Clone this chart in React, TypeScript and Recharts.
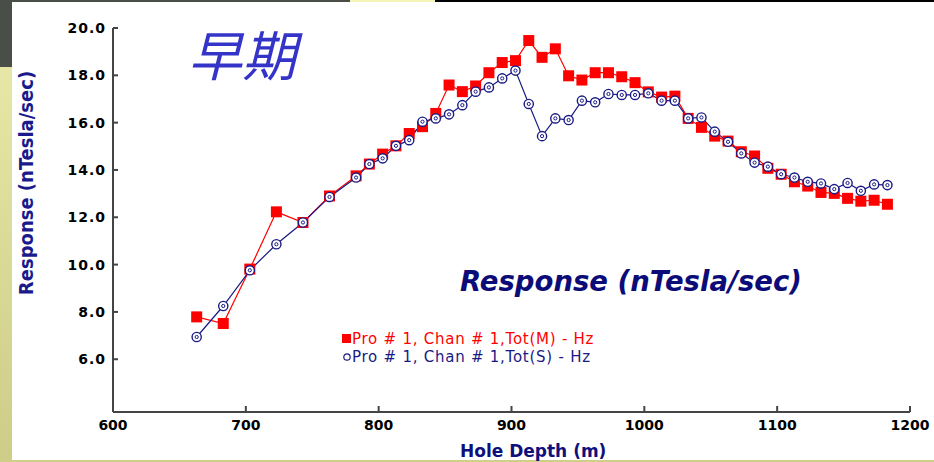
import { Line, LineChart, XAxis, YAxis } from "recharts";

const depths = [
  663, 683, 703, 723, 743, 763, 783, 793, 803, 813, 823, 833, 843, 853, 863, 873,
  883, 893, 903, 913, 923, 933, 943, 953, 963, 973, 983, 993, 1003, 1013, 1023,
  1033, 1043, 1053, 1063, 1073, 1083, 1093, 1103, 1113, 1123, 1133, 1143, 1153,
  1163, 1173, 1183,
];

const totM = [
  7.79, 7.51, 9.81, 12.23, 11.78, 12.9, 13.75, 14.25, 14.67, 15.02, 15.54, 15.83,
  16.39, 17.59, 17.31, 17.55, 18.11, 18.54, 18.62, 19.47, 18.76, 19.12, 17.98,
  17.8, 18.11, 18.11, 17.94, 17.69, 17.3, 17.08, 17.12, 16.18, 15.8, 15.43, 15.22,
  14.77, 14.59, 14.07, 13.82, 13.5, 13.32, 13.05, 13.01, 12.8, 12.68, 12.72, 12.55,
];

const totS = [
  6.94, 8.25, 9.76, 10.86, 11.78, 12.86, 13.68, 14.25, 14.49, 15.02, 15.26, 16.04,
  16.18, 16.35, 16.74, 17.31, 17.49, 17.87, 18.2, 16.79, 15.43, 16.18, 16.11,
  16.93, 16.86, 17.21, 17.17, 17.17, 17.24, 16.93, 16.93, 16.18, 16.22, 15.62,
  15.19, 14.7, 14.31, 14.14, 13.82, 13.68, 13.5, 13.43, 13.19, 13.45, 13.12, 13.39,
  13.36,
];

const xTicks = [600, 700, 800, 900, 1000, 1100, 1200];
const yTicks = [6, 8, 10, 12, 14, 16, 18, 20];

const seriesNames = ["Pro # 1, Chan # 1,Tot(M) - Hz", "Pro # 1, Chan # 1,Tot(S) - Hz"];

const data = depths.map((d, i) => ({ depth: d, m: totM[i], s: totS[i] }));

const RED = "#ff0000";
const NAVY = "#1a1a84";
const AXIS = "#444444";
const tickFont = { fontFamily: "DejaVu Sans", fontWeight: 700, fontSize: 14, fill: "#000" };

function SquareDot({ cx, cy }: any) {
  if (cx == null || cy == null) return null;
  return <rect x={cx - 5.5} y={cy - 5.5} width={11} height={11} fill={RED} />;
}

function RingDot({ cx, cy }: any) {
  if (cx == null || cy == null) return null;
  return (
    <g>
      <circle cx={cx} cy={cy} r={4.6} fill="#fff" stroke={NAVY} strokeWidth={1.4} />
      <circle cx={cx} cy={cy} r={1.6} fill="none" stroke={NAVY} strokeWidth={1} />
    </g>
  );
}

function YTick({ x, y, payload }: any) {
  return (
    <g>
      <line x1={x + 7} x2={x + 12} y1={y} y2={y} stroke={AXIS} strokeWidth={2} />
      <text x={x} y={y} dy="0.36em" textAnchor="end" {...tickFont} letterSpacing={1}>
        {payload.value.toFixed(1)}
      </text>
    </g>
  );
}

function XTick({ x, y, payload }: any) {
  return (
    <g>
      {payload.value !== 600 && (
        <line x1={x} x2={x} y1={y - 8} y2={y - 14} stroke={AXIS} strokeWidth={2} />
      )}
      <text x={x} y={y} dy="0.74em" textAnchor="middle" {...tickFont}>
        {payload.value}
      </text>
    </g>
  );
}

function LegendBox() {
  const row = { display: "flex", alignItems: "center", height: 18, whiteSpace: "nowrap" as const };
  const txt = { fontFamily: "DejaVu Sans", fontSize: 15, letterSpacing: 0.75 };
  return (
    <div style={{ position: "absolute", left: 342, top: 330 }}>
      <div style={row}>
        <svg width={10} height={12}>
          <rect x={0} y={1} width={9} height={9} fill={RED} />
        </svg>
        <span style={{ ...txt, color: RED }}>{seriesNames[0]}</span>
      </div>
      <div style={row}>
        <svg width={10} height={12}>
          <circle cx={5} cy={6} r={3.2} fill="#fff" stroke={NAVY} strokeWidth={1.2} />
        </svg>
        <span style={{ ...txt, color: NAVY }}>{seriesNames[1]}</span>
      </div>
    </div>
  );
}

export default function App() {
  return (
    <div
      style={{
        position: "absolute",
        left: 0,
        top: 0,
        width: 934,
        height: 462,
        background: "#fff",
        overflow: "hidden",
      }}
    >
      {/* slide frame */}
      <div style={{ position: "absolute", left: 0, top: 0, width: 350, height: 2, background: "#4a4e48" }} />
      <div style={{ position: "absolute", left: 350, top: 0, width: 85, height: 2, background: "#f5f5b8" }} />
      <div style={{ position: "absolute", left: 435, top: 0, width: 499, height: 2, background: "#000" }} />
      <div style={{ position: "absolute", left: 0, top: 0, width: 12, height: 67, background: "#4a4e48" }} />
      <div
        style={{
          position: "absolute",
          left: 0,
          top: 67,
          width: 12,
          height: 395,
          background: "linear-gradient(#e6e6a6, #cdcd88)",
        }}
      />
      <div style={{ position: "absolute", left: 0, top: 460, width: 934, height: 2, background: "#cfcf8a" }} />

      <LineChart
        width={934}
        height={462}
        data={data}
        margin={{ top: 28, right: 24, bottom: 20, left: 53 }}
      >
        <XAxis
          dataKey="depth"
          type="number"
          domain={[600, 1200]}
          ticks={xTicks}
          allowDataOverflow
          height={30}
          tickSize={0}
          tickMargin={8}
          tickLine={false}
          axisLine={{ stroke: AXIS, strokeWidth: 2 }}
          tick={<XTick />}
        />
        <YAxis
          type="number"
          domain={[3.77, 20]}
          ticks={yTicks}
          allowDataOverflow
          width={60}
          tickSize={0}
          tickMargin={7}
          tickLine={false}
          axisLine={{ stroke: AXIS, strokeWidth: 2 }}
          tick={<YTick />}
        />
        <Line
          dataKey="m"
          name={seriesNames[0]}
          stroke={RED}
          strokeWidth={1.2}
          dot={<SquareDot />}
          isAnimationActive={false}
        />
        <Line
          dataKey="s"
          name={seriesNames[1]}
          stroke={NAVY}
          strokeWidth={1.2}
          dot={<RingDot />}
          isAnimationActive={false}
        />
      </LineChart>

      <LegendBox />

      {/* titles */}
      <div
        style={{
          position: "absolute",
          left: 188,
          top: 18,
          fontFamily: "Noto Sans CJK SC",
          fontStyle: "italic",
          fontSize: 54,
          lineHeight: "70px",
          color: "#3434c8",
        }}
      >
        早期
      </div>
      <div
        style={{
          position: "absolute",
          left: 460,
          top: 265,
          fontFamily: "DejaVu Sans",
          fontStyle: "italic",
          fontWeight: 700,
          fontSize: 27.5,
          lineHeight: "32px",
          color: "#0c0c78",
          whiteSpace: "nowrap",
        }}
      >
        Response (nTesla/sec)
      </div>
      <div
        style={{
          position: "absolute",
          left: 460,
          top: 441,
          fontFamily: "DejaVu Sans",
          fontWeight: 700,
          fontSize: 17,
          lineHeight: "20px",
          color: "#10107c",
          whiteSpace: "nowrap",
        }}
      >
        Hole Depth (m)
      </div>
      <div
        style={{
          position: "absolute",
          left: 26,
          top: 183,
          transform: "translate(-50%, -50%) rotate(-90deg)",
          fontFamily: "'Liberation Sans Narrow', 'DejaVu Sans Condensed', 'Liberation Sans'",
          fontWeight: 700,
          fontSize: 20,
          lineHeight: "24px",
          color: "#1a1a8c",
          whiteSpace: "nowrap",
        }}
      >
        Response (nTesla/sec)
      </div>
    </div>
  );
}
